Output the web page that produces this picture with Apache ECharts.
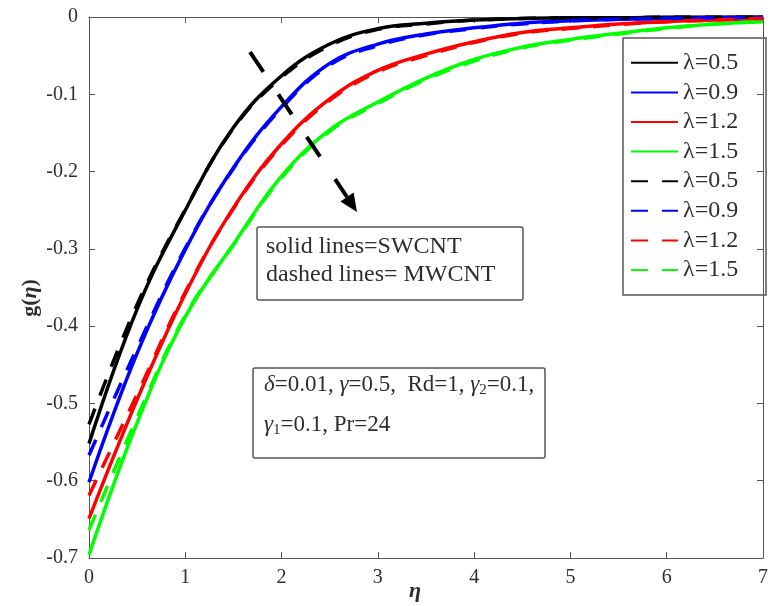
<!DOCTYPE html>
<html><head><meta charset="utf-8">
<script src="https://cdn.jsdelivr.net/npm/echarts@6/dist/echarts.min.js"></script>
<style>html,body{margin:0;padding:0;background:#fff}#c{width:771px;height:606px}</style>
</head><body><div id="c"></div>
<script>
// eta grid
const eta = [0,0.5,1,1.5,2,2.5,3,3.5,4,4.5,5,5.5,6,6.5,7];
const lambdaLabels = ['λ=0.5','λ=0.9','λ=1.2','λ=1.5'];
const colors = ['#000000','#0000ff','#ff0000','#00ff00'];
// solid lines = SWCNT
const swcnt05 = [-0.552,-0.378,-0.250,-0.143,-0.076,-0.035,-0.015,-0.008,-0.004,-0.002,-0.001,-0.001,0,0,0];
const swcnt09 = [-0.602,-0.435,-0.301,-0.195,-0.116,-0.060,-0.035,-0.022,-0.014,-0.008,-0.005,-0.003,-0.002,-0.001,0];
const swcnt12 = [-0.649,-0.495,-0.358,-0.247,-0.164,-0.106,-0.069,-0.048,-0.032,-0.020,-0.014,-0.009,-0.006,-0.004,-0.002];
const swcnt15 = [-0.696,-0.525,-0.388,-0.294,-0.206,-0.146,-0.110,-0.079,-0.055,-0.039,-0.029,-0.021,-0.014,-0.009,-0.006];
// dashed lines = MWCNT
const mwcnt05 = [-0.527,-0.372,-0.249,-0.144,-0.078,-0.037,-0.016,-0.009,-0.004,-0.002,-0.001,-0.001,0,0,0];
const mwcnt09 = [-0.567,-0.428,-0.299,-0.196,-0.118,-0.062,-0.037,-0.023,-0.015,-0.009,-0.005,-0.003,-0.002,-0.001,0];
const mwcnt12 = [-0.619,-0.488,-0.356,-0.248,-0.166,-0.108,-0.071,-0.050,-0.033,-0.021,-0.015,-0.010,-0.006,-0.004,-0.002];
const mwcnt15 = [-0.664,-0.518,-0.386,-0.295,-0.208,-0.148,-0.112,-0.081,-0.057,-0.040,-0.030,-0.022,-0.015,-0.009,-0.006];
const xTicks = [0,1,2,3,4,5,6,7];
const yTicks = [0,-0.1,-0.2,-0.3,-0.4,-0.5,-0.6,-0.7];

const FONT = '"Liberation Serif","Times New Roman",serif';
const TXT = '#2e2e2e';
const solidSets = [swcnt05, swcnt09, swcnt12, swcnt15];
const dashedSets = [mwcnt05, mwcnt09, mwcnt12, mwcnt15];
const nameMap = {};
const series = [];
solidSets.forEach((arr, i) => {
  const nm = 's' + i; nameMap[nm] = lambdaLabels[i];
  series.push({name: nm, type: 'line', smooth: 0.4, symbol: 'none', showSymbol: false, xAxisIndex: 0, yAxisIndex: 0,
    data: eta.map((e, k) => [e, arr[k]]),
    lineStyle: {color: colors[i], width: 3.5}, itemStyle: {color: colors[i]}});
});
dashedSets.forEach((arr, i) => {
  const nm = 'd' + i; nameMap[nm] = lambdaLabels[i];
  series.push({name: nm, type: 'line', smooth: 0.4, symbol: 'none', showSymbol: false, xAxisIndex: 0, yAxisIndex: 0,
    data: eta.map((e, k) => [e, arr[k]]),
    lineStyle: {color: colors[i], width: 3.5, type: [17, 14]}, itemStyle: {color: colors[i]}});
});

const axisCommon = {
  axisLine: {show: true, onZero: false, lineStyle: {color: '#555', width: 1}},
  axisTick: {show: true, inside: true, length: 6, lineStyle: {color: '#555'}},
  splitLine: {show: false}
};
const chart = echarts.init(document.getElementById('c'), null, {renderer: 'canvas'});
chart.setOption({
  animation: false,
  backgroundColor: '#fff',
  grid: {left: 89, right: 4, top: 17, bottom: 48, containLabel: false},
  xAxis: [
    Object.assign({type: 'value', min: 0, max: 7, interval: 1, position: 'bottom',
      axisLabel: {margin: 10, fontFamily: FONT, fontSize: 20, color: TXT,
        formatter: v => xTicks.includes(v) ? String(v) : ''}}, axisCommon),
    Object.assign({type: 'value', min: 0, max: 7, interval: 1, position: 'top',
      axisLabel: {show: false}}, axisCommon)
  ],
  yAxis: [
    Object.assign({type: 'value', min: -0.7, max: 0, interval: 0.1, position: 'left',
      axisLabel: {margin: 11, fontFamily: FONT, fontSize: 20, color: TXT,
        formatter: v => { const t = yTicks.find(y => Math.abs(y - v) < 1e-9); return t === undefined ? '' : (t === 0 ? '0' : t.toFixed(1)); }}}, axisCommon),
    Object.assign({type: 'value', min: -0.7, max: 0, interval: 0.1, position: 'right',
      axisLabel: {show: false}}, axisCommon)
  ],
  legend: {
    orient: 'vertical', left: 630, top: 48, padding: 0, itemGap: 0,
    itemWidth: 47, itemHeight: 14,
    data: series.map(s => s.name),
    formatter: n => nameMap[n],
    itemStyle: {opacity: 0, borderWidth: 0},
    textStyle: {fontFamily: FONT, fontSize: 24, color: TXT, lineHeight: 29.6}
  },
  series: series,
  graphic: [
    {type: 'rect', shape: {x: 623, y: 38, width: 143, height: 257}, style: {fill: 'none', stroke: '#555', lineWidth: 1.5}, z: 10},
    {type: 'rect', shape: {x: 257, y: 227, width: 266, height: 73, r: 2}, style: {fill: '#fff', stroke: '#555', lineWidth: 1.5}, z: 10},
    {type: 'text', left: 266, top: 235, z: 11, style: {text: 'solid lines=SWCNT', font: '24px ' + FONT, fill: TXT}},
    {type: 'text', left: 266, top: 263, z: 11, style: {text: 'dashed lines= MWCNT', font: '24px ' + FONT, fill: TXT}},
    {type: 'rect', shape: {x: 253, y: 368, width: 292, height: 90, r: 2}, style: {fill: '#fff', stroke: '#555', lineWidth: 1.5}, z: 10},
    {type: 'text', left: 264, top: 373, z: 11, style: {
      text: '{i|δ}=0.01, {i|γ}=0.5,  Rd=1, {i|γ}{s|2}=0.1,',
      font: '23px ' + FONT, fill: TXT,
      rich: {i: {fontFamily: FONT, fontSize: 23, fontStyle: 'italic', fill: TXT}, s: {fontFamily: FONT, fontSize: 15, fill: TXT, padding: [12, 0, 0, 0]}}}},
    {type: 'text', left: 264, top: 413, z: 11, style: {
      text: '{i|γ}{s|1}=0.1, Pr=24',
      font: '23px ' + FONT, fill: TXT,
      rich: {i: {fontFamily: FONT, fontSize: 23, fontStyle: 'italic', fill: TXT}, s: {fontFamily: FONT, fontSize: 15, fill: TXT, padding: [12, 0, 0, 0]}}}},
    // arrow
    {type: 'line', z: 11, shape: {x1: 250, y1: 52, x2: 347, y2: 197}, style: {stroke: '#000', lineWidth: 4, lineDash: [24, 27]}},
    {type: 'polygon', z: 11, shape: {points: [[357, 212], [340.4, 201.4], [353.6, 192.6]]}, style: {fill: '#000'}},
    // axis names
    {type: 'text', x: 30, y: 298, rotation: Math.PI / 2, z: 11, style: {
      text: 'g({i|η})', font: 'bold 22px ' + FONT, fill: TXT, align: 'center', verticalAlign: 'middle',
      rich: {i: {fontFamily: FONT, fontSize: 22, fontWeight: 'bold', fontStyle: 'italic', fill: TXT}}}},
    {type: 'text', x: 415, y: 591, z: 11, style: {
      text: 'η', font: 'italic bold 22px ' + FONT, fill: TXT, align: 'center', verticalAlign: 'middle'}}
  ]
});
</script></body></html>
